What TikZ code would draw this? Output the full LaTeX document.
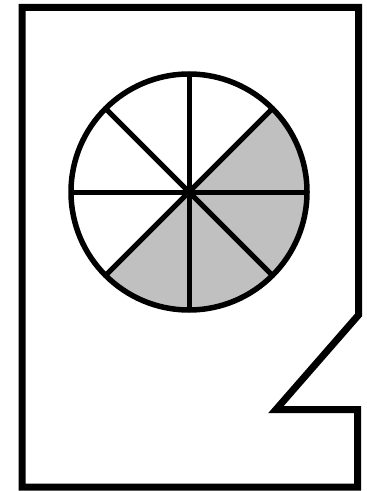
\documentclass[tikz,border=0pt]{standalone}
\begin{document}
\begin{tikzpicture}[x=1bp,y=-1bp,
  frame/.style={line width=7bp,line join=miter,draw=black},
  rim/.style={line width=5.5bp,draw=black},
  spoke/.style={line width=5bp,draw=black}]
\useasboundingbox (0,0) rectangle (366,491);
\coordinate (c) at (189,192);
\def\R{118}
% frame
\draw[frame] (22,7.5) -- (358.5,7.5) -- (358.5,315) -- (276,409.5) -- (357.5,409.5) -- (357.5,487) -- (22,487) -- cycle;
% gray sectors (y axis flipped: angles run clockwise on the page)
\fill[fill={rgb,255:red,192;green,192;blue,192}] (c) -- ++(-45:\R) arc[start angle=-45,end angle=135,radius=\R] -- cycle;
% spokes
\foreach \a in {0,45,...,315} \draw[spoke] (c) -- ++(\a:\R);
% rim
\draw[rim] (c) circle[radius=\R];
\end{tikzpicture}
\end{document}
